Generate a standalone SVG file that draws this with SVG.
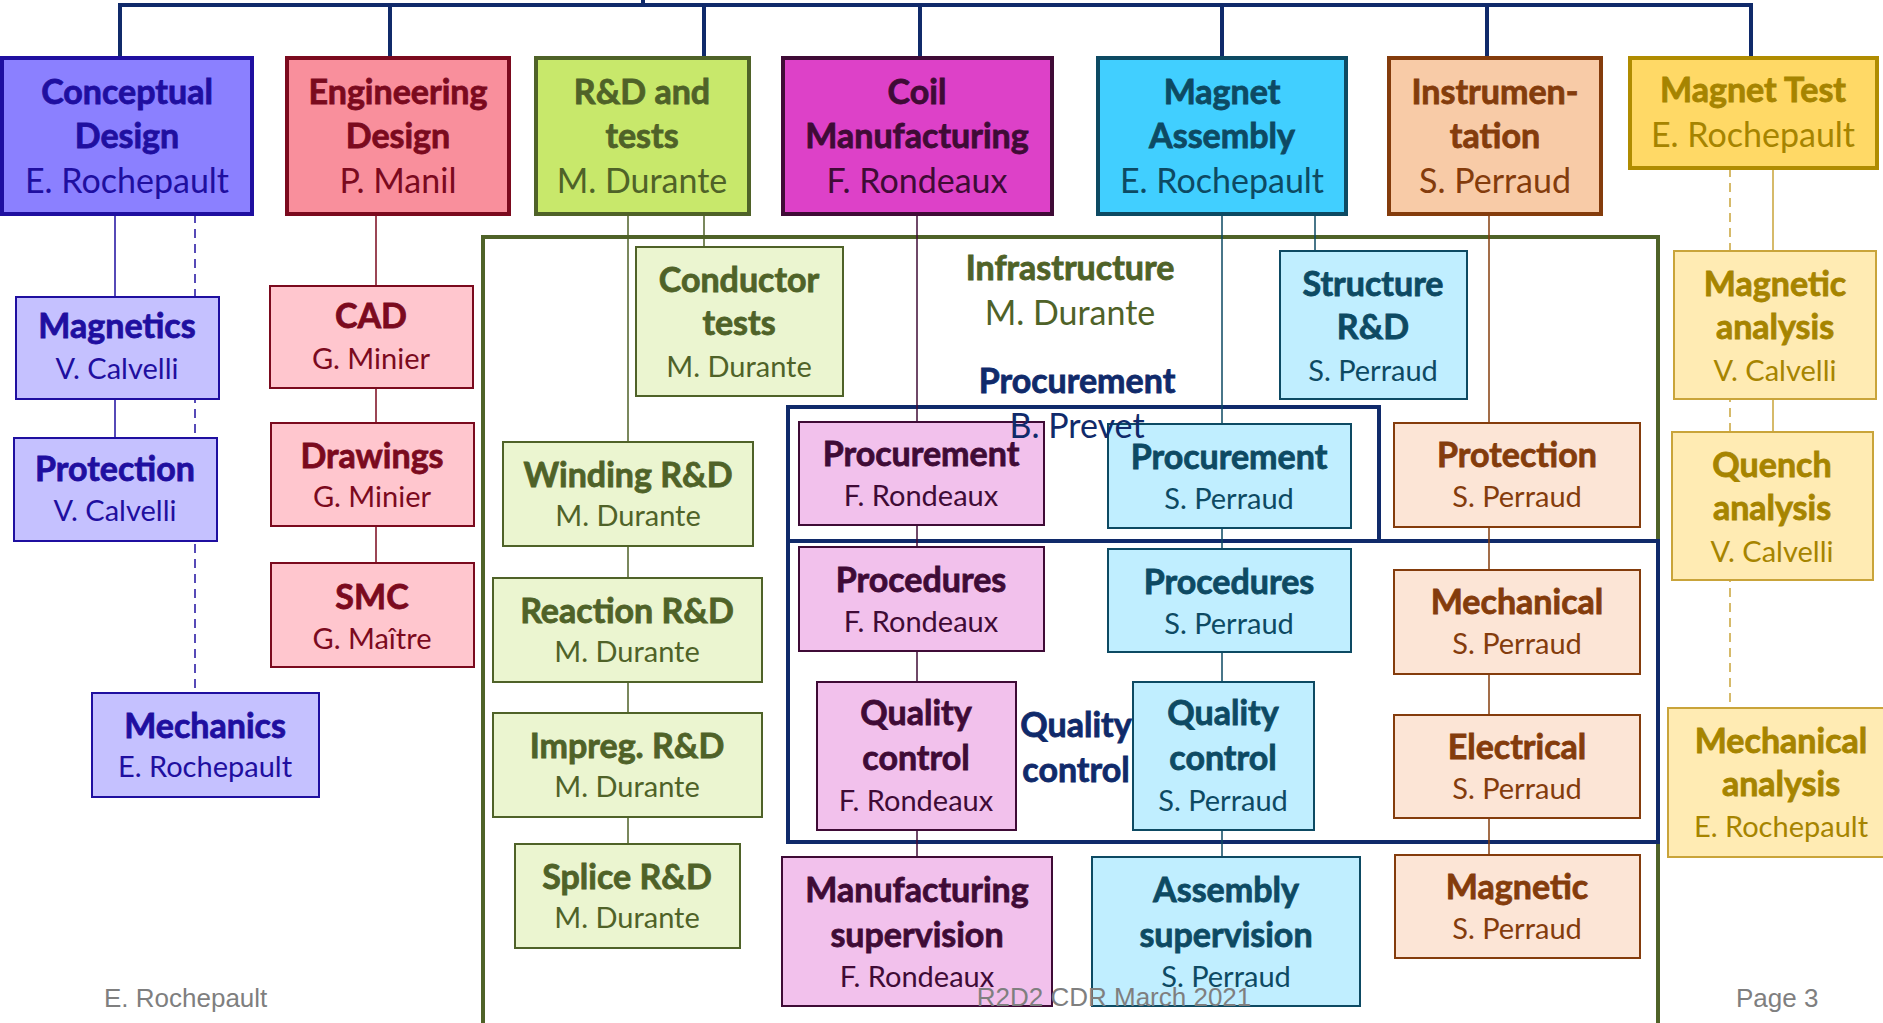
<svg xmlns="http://www.w3.org/2000/svg" width="1883" height="1023" viewBox="0 0 1883 1023">
  <style>
    text { font-family: Lato, "Liberation Sans", sans-serif; text-anchor: middle; stroke-width: 0; }
    .h { font-weight: 700; font-size: 34px; stroke-width: 0.8px; }
    .n1 { font-size: 34px; }
    .n { font-size: 29px; }
    .foot { font-family: "Liberation Sans", Arial, sans-serif; font-size: 26px; fill: #7f7f7f; text-anchor: start; }
    .top { fill: none; stroke: #102a6a; stroke-width: 4; }
    .frame-olive { fill: none; stroke: #4f6228; stroke-width: 4; }
    .frame-navy { fill: none; stroke: #102a6a; stroke-width: 4; }
    .l1 { stroke-width: 4; }
    .l2 { stroke-width: 2; }
    .link { fill: none; stroke-width: 1.5; }
    .dash { stroke-dasharray: 9 6; }
    /* column palettes: 1 = lead box, 2 = task box, t = text, l = link */
    .cd1 { fill: #8b80ff; stroke: #1f0fa0; } .cd2 { fill: #c5c1ff; stroke: #1f0fa0; } .cdt { fill: #1f0fa0; stroke: #1f0fa0; } .cdl { stroke: #1f0fa0; }
    .ed1 { fill: #f98f9c; stroke: #7b0a1e; } .ed2 { fill: #ffc6ce; stroke: #7b0a1e; } .edt { fill: #7b0a1e; stroke: #7b0a1e; } .edl { stroke: #7b0a1e; }
    .rd1 { fill: #c8e86b; stroke: #4f6228; } .rd2 { fill: #ebf5d0; stroke: #4f6228; } .rdt { fill: #4f6228; stroke: #4f6228; } .rdl { stroke: #4f6228; }
    .cm1 { fill: #dd41c8; stroke: #3f0b36; } .cm2 { fill: #f2c1ec; stroke: #3f0b36; } .cmt { fill: #3f0b36; stroke: #3f0b36; } .cml { stroke: #3f0b36; }
    .ma1 { fill: #41cfff; stroke: #0d4a63; } .ma2 { fill: #c0eeff; stroke: #0d4a63; } .mat { fill: #0d4a63; stroke: #0d4a63; } .mal { stroke: #0d4a63; }
    .in1 { fill: #f8cba7; stroke: #843c0c; } .in2 { fill: #fce5d6; stroke: #843c0c; } .int { fill: #843c0c; stroke: #843c0c; } .inl { stroke: #843c0c; }
    .mt1 { fill: #ffd966; stroke: #b08c00; } .mt2 { fill: #ffebb3; stroke: #c9a43a; } .mtt { fill: #a68400; stroke: #a68400; } .mtl { stroke: #c9a43a; }
    .navyt { fill: #102a6a; stroke: #102a6a; }
  </style>

  <!-- sub-team frames -->
  <g id="frames">
    <path class="frame-olive" d="M483,1030 V237 H1658 V1030"/>
    <rect class="frame-navy" x="788" y="407" width="591" height="134"/>
    <rect class="frame-navy" x="788" y="541" width="870" height="301"/>
  </g>

  <!-- connectors -->
  <g id="connectors">
    <path class="top" d="M643,0 V5 M120,58 V5 H1751 V58 M390,5 V58 M704,5 V58 M920,5 V58 M1222,5 V58 M1487,5 V58"/>
    <path class="link cdl" d="M115,214 V297 M115,399 V438"/>
    <path class="link cdl dash" d="M195,214 V693"/>
    <path class="link edl" d="M376,214 V286 M376,388 V423 M376,526 V563"/>
    <path class="link rdl" d="M628,214 V442 M628,546 V578 M628,682 V713 M628,817 V844 M704,214 V247"/>
    <path class="link cml" d="M917,214 V857"/>
    <path class="link mal" d="M1222,214 V857 M1315,214 V251"/>
    <path class="link inl" d="M1489,214 V855"/>
    <path class="link mtl" d="M1773,168 V251 M1773,399 V432"/>
    <path class="link mtl dash" d="M1730,168 V708"/>
  </g>

  <!-- work packages -->
  <g id="conceptual-design">
    <rect class="cd1 l1" x="2" y="58" width="250" height="156"/>
    <text class="h cdt" x="127" y="104">Conceptual</text>
    <text class="h cdt" x="127" y="148">Design</text>
    <text class="n1 cdt" x="127" y="193">E. Rochepault</text>
  </g>
  <g id="engineering-design">
    <rect class="ed1 l1" x="287" y="58" width="222" height="156"/>
    <text class="h edt" x="398" y="104">Engineering</text>
    <text class="h edt" x="398" y="148">Design</text>
    <text class="n1 edt" x="398" y="193">P. Manil</text>
  </g>
  <g id="rd-tests">
    <rect class="rd1 l1" x="536" y="58" width="213" height="156"/>
    <text class="h rdt" x="642" y="104">R&amp;D and</text>
    <text class="h rdt" x="642" y="148">tests</text>
    <text class="n1 rdt" x="642" y="193">M. Durante</text>
  </g>
  <g id="coil-manufacturing">
    <rect class="cm1 l1" x="783" y="58" width="269" height="156"/>
    <text class="h cmt" x="917" y="104">Coil</text>
    <text class="h cmt" x="917" y="148">Manufacturing</text>
    <text class="n1 cmt" x="917" y="193">F. Rondeaux</text>
  </g>
  <g id="magnet-assembly">
    <rect class="ma1 l1" x="1098" y="58" width="248" height="156"/>
    <text class="h mat" x="1222" y="104">Magnet</text>
    <text class="h mat" x="1222" y="148">Assembly</text>
    <text class="n1 mat" x="1222" y="193">E. Rochepault</text>
  </g>
  <g id="instrumentation">
    <rect class="in1 l1" x="1389" y="58" width="212" height="156"/>
    <text class="h int" x="1495" y="104">Instrumen-</text>
    <text class="h int" x="1495" y="148">tation</text>
    <text class="n1 int" x="1495" y="193">S. Perraud</text>
  </g>
  <g id="magnet-test">
    <rect class="mt1 l1" x="1630" y="58" width="247" height="110"/>
    <text class="h mtt" x="1753" y="102">Magnet Test</text>
    <text class="n1 mtt" x="1753" y="147">E. Rochepault</text>
  </g>

  <!-- conceptual design tasks -->
  <g id="cd-magnetics">
    <rect class="cd2 l2" x="16" y="297" width="203" height="102"/>
    <text class="h cdt" x="117" y="338">Magnetics</text>
    <text class="n cdt" x="117" y="379">V. Calvelli</text>
  </g>
  <g id="cd-protection">
    <rect class="cd2 l2" x="14" y="438" width="203" height="103"/>
    <text class="h cdt" x="115" y="481">Protection</text>
    <text class="n cdt" x="115" y="521">V. Calvelli</text>
  </g>
  <g id="cd-mechanics">
    <rect class="cd2 l2" x="92" y="693" width="227" height="104"/>
    <text class="h cdt" x="205" y="738">Mechanics</text>
    <text class="n cdt" x="205" y="777">E. Rochepault</text>
  </g>

  <!-- engineering design tasks -->
  <g id="ed-cad">
    <rect class="ed2 l2" x="270" y="286" width="203" height="102"/>
    <text class="h edt" x="371" y="328">CAD</text>
    <text class="n edt" x="371" y="369">G. Minier</text>
  </g>
  <g id="ed-drawings">
    <rect class="ed2 l2" x="271" y="423" width="203" height="103"/>
    <text class="h edt" x="372" y="468">Drawings</text>
    <text class="n edt" x="372" y="507">G. Minier</text>
  </g>
  <g id="ed-smc">
    <rect class="ed2 l2" x="271" y="563" width="203" height="104"/>
    <text class="h edt" x="372" y="609">SMC</text>
    <text class="n edt" x="372" y="649">G. Maître</text>
  </g>

  <!-- R&D tasks -->
  <g id="rd-conductor">
    <rect class="rd2 l2" x="636" y="247" width="207" height="149"/>
    <text class="h rdt" x="739" y="292">Conductor</text>
    <text class="h rdt" x="739" y="335">tests</text>
    <text class="n rdt" x="739" y="377">M. Durante</text>
  </g>
  <g id="rd-winding">
    <rect class="rd2 l2" x="503" y="442" width="250" height="104"/>
    <text class="h rdt" x="628" y="487">Winding R&amp;D</text>
    <text class="n rdt" x="628" y="526">M. Durante</text>
  </g>
  <g id="rd-reaction">
    <rect class="rd2 l2" x="493" y="578" width="269" height="104"/>
    <text class="h rdt" x="627" y="623">Reaction R&amp;D</text>
    <text class="n rdt" x="627" y="662">M. Durante</text>
  </g>
  <g id="rd-impreg">
    <rect class="rd2 l2" x="493" y="713" width="269" height="104"/>
    <text class="h rdt" x="627" y="758">Impreg. R&amp;D</text>
    <text class="n rdt" x="627" y="797">M. Durante</text>
  </g>
  <g id="rd-splice">
    <rect class="rd2 l2" x="515" y="844" width="225" height="104"/>
    <text class="h rdt" x="627" y="889">Splice R&amp;D</text>
    <text class="n rdt" x="627" y="928">M. Durante</text>
  </g>

  <!-- coil manufacturing tasks -->
  <g id="cm-procurement">
    <rect class="cm2 l2" x="799" y="422" width="245" height="103"/>
    <text class="h cmt" x="921" y="466">Procurement</text>
    <text class="n cmt" x="921" y="506">F. Rondeaux</text>
  </g>
  <g id="cm-procedures">
    <rect class="cm2 l2" x="799" y="547" width="245" height="104"/>
    <text class="h cmt" x="921" y="592">Procedures</text>
    <text class="n cmt" x="921" y="632">F. Rondeaux</text>
  </g>
  <g id="cm-quality">
    <rect class="cm2 l2" x="817" y="682" width="199" height="148"/>
    <text class="h cmt" x="916" y="725">Quality</text>
    <text class="h cmt" x="916" y="770">control</text>
    <text class="n cmt" x="916" y="811">F. Rondeaux</text>
  </g>
  <g id="cm-supervision">
    <rect class="cm2 l2" x="782" y="857" width="270" height="149"/>
    <text class="h cmt" x="917" y="902">Manufacturing</text>
    <text class="h cmt" x="917" y="947">supervision</text>
    <text class="n cmt" x="917" y="987">F. Rondeaux</text>
  </g>

  <!-- magnet assembly tasks -->
  <g id="ma-structure">
    <rect class="ma2 l2" x="1280" y="251" width="187" height="148"/>
    <text class="h mat" x="1373" y="296">Structure</text>
    <text class="h mat" x="1373" y="339">R&amp;D</text>
    <text class="n mat" x="1373" y="381">S. Perraud</text>
  </g>
  <g id="ma-procurement">
    <rect class="ma2 l2" x="1108" y="424" width="243" height="104"/>
    <text class="h mat" x="1229" y="469">Procurement</text>
    <text class="n mat" x="1229" y="509">S. Perraud</text>
  </g>
  <g id="ma-procedures">
    <rect class="ma2 l2" x="1108" y="549" width="243" height="103"/>
    <text class="h mat" x="1229" y="594">Procedures</text>
    <text class="n mat" x="1229" y="634">S. Perraud</text>
  </g>
  <g id="ma-quality">
    <rect class="ma2 l2" x="1133" y="682" width="181" height="148"/>
    <text class="h mat" x="1223" y="725">Quality</text>
    <text class="h mat" x="1223" y="770">control</text>
    <text class="n mat" x="1223" y="811">S. Perraud</text>
  </g>
  <g id="ma-supervision">
    <rect class="ma2 l2" x="1092" y="857" width="268" height="149"/>
    <text class="h mat" x="1226" y="902">Assembly</text>
    <text class="h mat" x="1226" y="947">supervision</text>
    <text class="n mat" x="1226" y="987">S. Perraud</text>
  </g>

  <!-- instrumentation tasks -->
  <g id="in-protection">
    <rect class="in2 l2" x="1394" y="423" width="246" height="104"/>
    <text class="h int" x="1517" y="467">Protection</text>
    <text class="n int" x="1517" y="507">S. Perraud</text>
  </g>
  <g id="in-mechanical">
    <rect class="in2 l2" x="1394" y="570" width="246" height="104"/>
    <text class="h int" x="1517" y="614">Mechanical</text>
    <text class="n int" x="1517" y="654">S. Perraud</text>
  </g>
  <g id="in-electrical">
    <rect class="in2 l2" x="1394" y="715" width="246" height="103"/>
    <text class="h int" x="1517" y="759">Electrical</text>
    <text class="n int" x="1517" y="799">S. Perraud</text>
  </g>
  <g id="in-magnetic">
    <rect class="in2 l2" x="1395" y="855" width="245" height="103"/>
    <text class="h int" x="1517" y="899">Magnetic</text>
    <text class="n int" x="1517" y="939">S. Perraud</text>
  </g>

  <!-- magnet test tasks -->
  <g id="mt-magnetic">
    <rect class="mt2 l2" x="1674" y="251" width="202" height="148"/>
    <text class="h mtt" x="1775" y="296">Magnetic</text>
    <text class="h mtt" x="1775" y="339">analysis</text>
    <text class="n mtt" x="1775" y="381">V. Calvelli</text>
  </g>
  <g id="mt-quench">
    <rect class="mt2 l2" x="1672" y="432" width="201" height="148"/>
    <text class="h mtt" x="1772" y="477">Quench</text>
    <text class="h mtt" x="1772" y="520">analysis</text>
    <text class="n mtt" x="1772" y="562">V. Calvelli</text>
  </g>
  <g id="mt-mechanical">
    <rect class="mt2 l2" x="1668" y="708" width="222" height="149"/>
    <text class="h mtt" x="1781" y="753">Mechanical</text>
    <text class="h mtt" x="1781" y="796">analysis</text>
    <text class="n mtt" x="1781" y="837">E. Rochepault</text>
  </g>

  <!-- frame captions -->
  <g id="infrastructure-label">
    <text class="h rdt" x="1070" y="280">Infrastructure</text>
    <text class="n1 rdt" x="1070" y="325">M. Durante</text>
  </g>
  <g id="procurement-label">
    <text class="h navyt" x="1077" y="393">Procurement</text>
    <text class="n1 navyt" x="1077" y="438">B. Prevet</text>
  </g>
  <g id="quality-label">
    <text class="h navyt" x="1076" y="737">Quality</text>
    <text class="h navyt" x="1076" y="782">control</text>
  </g>

  <!-- footer -->
  <g id="footer">
    <text class="foot" x="104" y="1007">E. Rochepault</text>
    <text class="foot" x="1114" y="1006" style="text-anchor: middle">R2D2 CDR March 2021</text>
    <text class="foot" x="1736" y="1007">Page 3</text>
  </g>
</svg>
